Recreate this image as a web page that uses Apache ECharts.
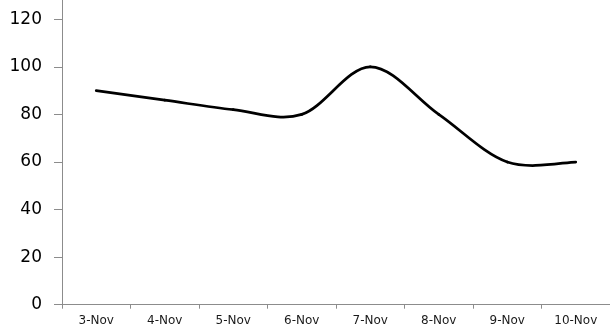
<!DOCTYPE html>
<html>
<head>
<meta charset="utf-8">
<script src="https://cdn.jsdelivr.net/npm/echarts@6/dist/echarts.min.js"></script>
<style>
  html, body { margin: 0; padding: 0; background: #fff; }
  #chart { width: 610px; height: 331px; }
</style>
</head>
<body>
<div id="chart"></div>
<script>
// Daily readings, 3–10 November
const days = ['3-Nov', '4-Nov', '5-Nov', '6-Nov', '7-Nov', '8-Nov', '9-Nov', '10-Nov'];
const readings = [90, 86, 82, 80, 100, 80, 60, 60];
const yMin = 0;
const yMax = 120;
const yStep = 20;

const axisGray = '#8c8c8c';
const chart = echarts.init(document.getElementById('chart'), null, { renderer: 'canvas' });

// Smoothed line: each segment i -> i+1 is a cubic Bezier whose control
// points follow the Catmull-Rom tangents (neighbour difference / 6).
function renderSegment(params, api) {
  const i = params.dataIndex;
  if (i >= readings.length - 1) return null;
  const pt = (k) => {
    const j = Math.max(0, Math.min(readings.length - 1, k));
    return api.coord([j, readings[j]]);
  };
  const p0 = pt(i - 1), p1 = pt(i), p2 = pt(i + 1), p3 = pt(i + 2);
  return {
    type: 'bezierCurve',
    shape: {
      x1: p1[0], y1: p1[1],
      cpx1: p1[0] + (p2[0] - p0[0]) / 6, cpy1: p1[1] + (p2[1] - p0[1]) / 6,
      cpx2: p2[0] - (p3[0] - p1[0]) / 6, cpy2: p2[1] - (p3[1] - p1[1]) / 6,
      x2: p2[0], y2: p2[1]
    },
    style: { stroke: '#000', lineWidth: 2.75, fill: null, lineCap: 'round' },
    silent: true
  };
}

chart.setOption({
  animation: false,
  backgroundColor: '#ffffff',
  grid: { left: 62, right: 0, top: 19.3, bottom: 26.3, containLabel: false },
  xAxis: {
    type: 'category',
    data: days,
    boundaryGap: true,
    axisLine: { show: true, lineStyle: { color: axisGray, width: 1 } },
    axisTick: { show: true, length: 4, alignWithLabel: false, lineStyle: { color: axisGray } },
    axisLabel: {
      color: '#1a1a1a',
      fontFamily: 'DejaVu Sans',
      fontSize: 12,
      margin: 10,
      interval: 0
    },
    splitLine: { show: false }
  },
  yAxis: {
    type: 'value',
    min: yMin,
    max: yMax,
    interval: yStep,
    axisLine: { show: true, lineStyle: { color: axisGray, width: 1 } },
    axisTick: { show: true, length: 8, lineStyle: { color: axisGray } },
    axisLabel: {
      color: '#000',
      fontFamily: 'DejaVu Sans',
      fontSize: 17,
      margin: 20
    },
    splitLine: { show: false }
  },
  series: [{
    type: 'custom',
    coordinateSystem: 'cartesian2d',
    data: readings.map((v, i) => [i, v]),
    encode: { x: 0, y: 1 },
    renderItem: renderSegment,
    z: 3
  }]
});

// Carry the vertical axis line up to the top edge of the canvas
const axisTop = chart.convertToPixel({ gridIndex: 0 }, [0, yMax]);
chart.setOption({
  graphic: [{
    type: 'line',
    shape: { x1: 62.5, y1: 0, x2: 62.5, y2: axisTop[1] },
    style: { stroke: axisGray, lineWidth: 1 },
    silent: true
  }]
});
</script>
</body>
</html>
